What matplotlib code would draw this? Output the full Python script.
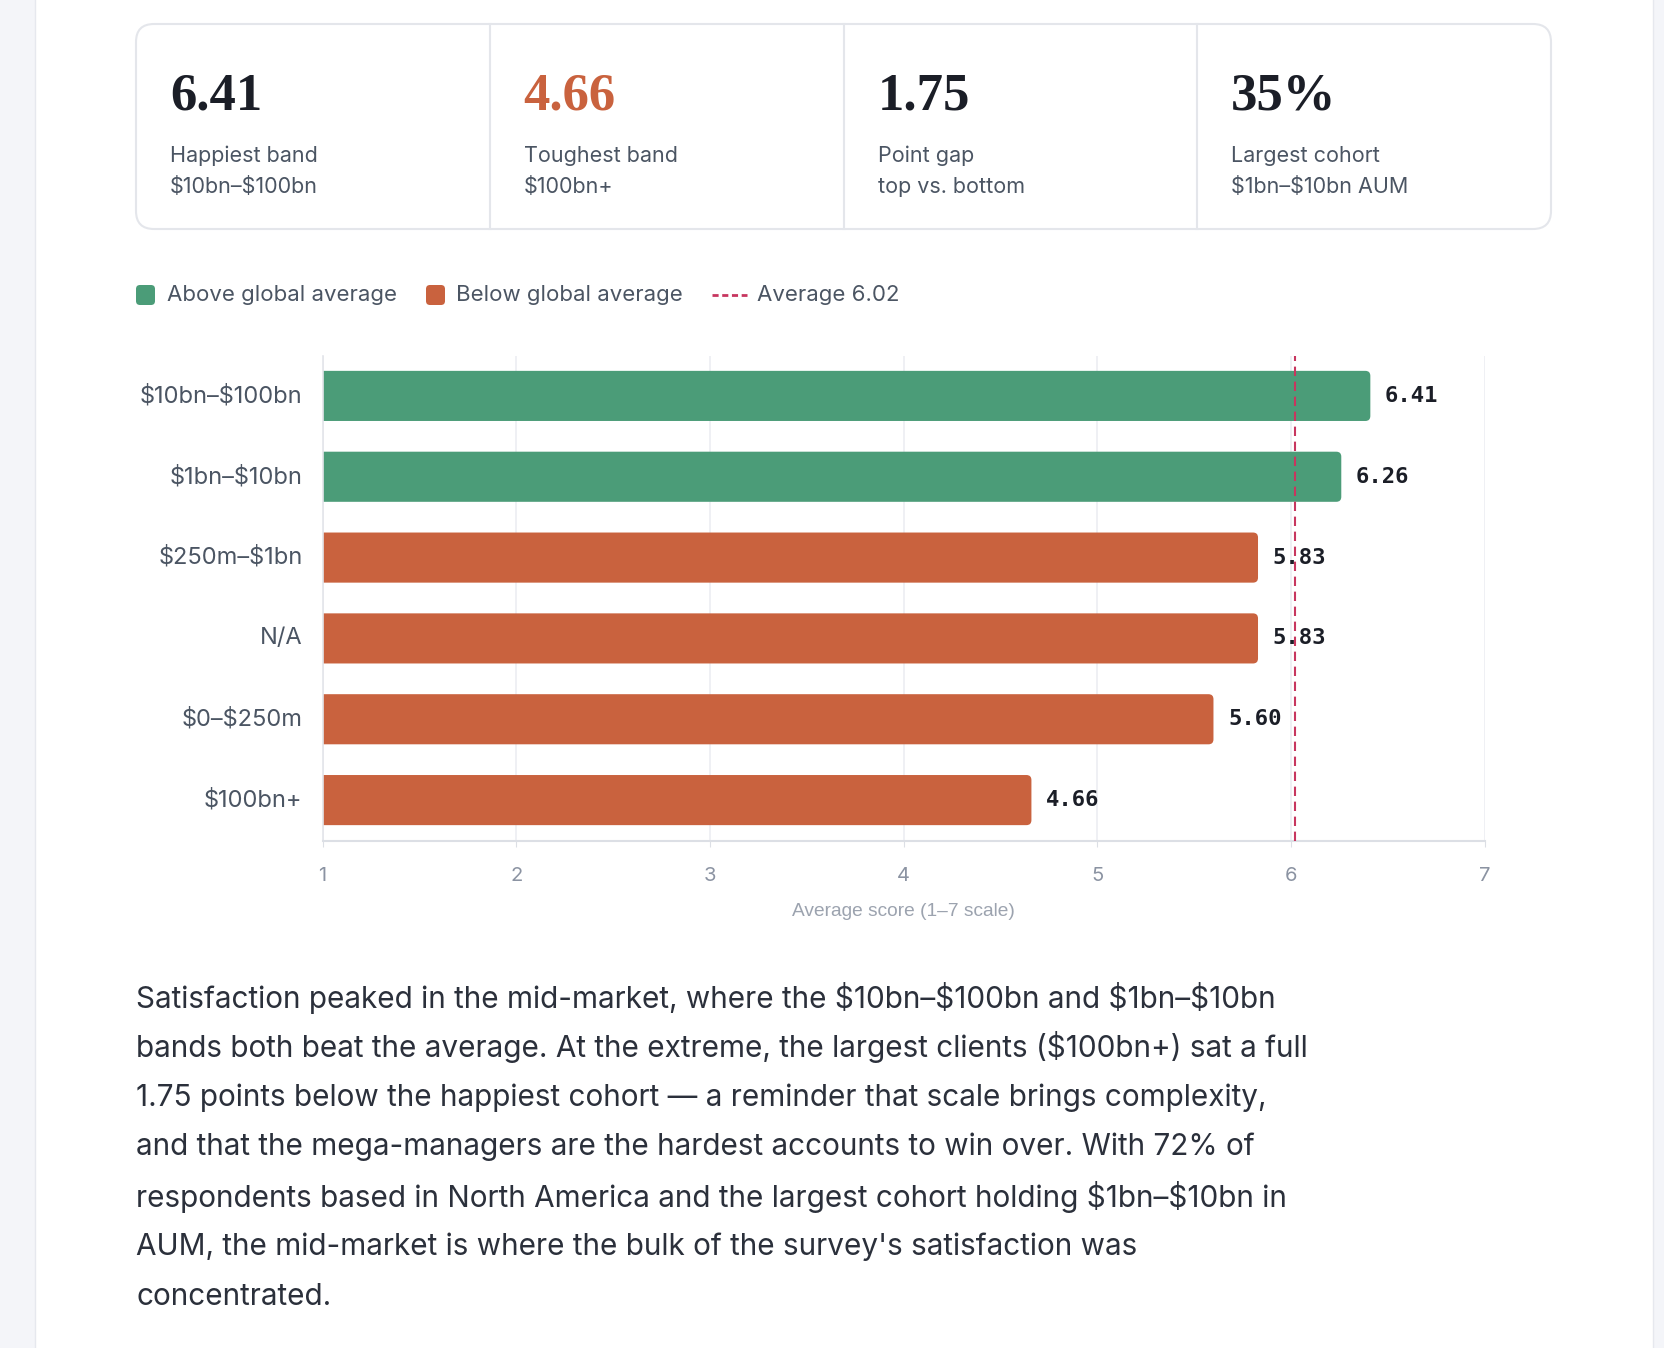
import matplotlib
matplotlib.use("Agg")
from matplotlib import pyplot as plt
from matplotlib.patches import FancyBboxPatch, Rectangle
from matplotlib.lines import Line2D

# ---- data ----
bands = ["$10bn–$100bn", "$1bn–$10bn", "$250m–$1bn", "N/A", "$0–$250m", "$100bn+"]
scores = [6.41, 6.26, 5.83, 5.83, 5.60, 4.66]
global_avg = 6.02
x_ticks = [1, 2, 3, 4, 5, 6, 7]
largest_cohort_share = "35%"
largest_cohort_band = "$1bn–$10bn AUM"

kpi_labels = ["Happiest band", "Toughest band", "Point gap", "Largest cohort"]

paragraph = [
    "Satisfaction peaked in the mid-market, where the $10bn–$100bn and $1bn–$10bn",
    "bands both beat the average. At the extreme, the largest clients ($100bn+) sat a full",
    "1.75 points below the happiest cohort — a reminder that scale brings complexity,",
    "and that the mega-managers are the hardest accounts to win over. With 72% of",
    "respondents based in North America and the largest cohort holding $1bn–$10bn in",
    "AUM, the mid-market is where the bulk of the survey's satisfaction was",
    "concentrated.",
]

# ---- style ----
GREEN = "#4b9c78"
ORANGE = "#c9623e"
AVG = "#c7365f"
DARK = "#1b1e27"
MUTED = "#4b5563"
LIGHT = "#8b93a2"
BORDER = "#e4e6eb"
STRIP = "#f4f5f9"

plt.rcParams["font.family"] = ["Inter", "DejaVu Sans"]


def esc(s):
    return s.replace("$", r"\$")


W, H = 1664, 1348
fig = plt.figure(figsize=(W / 100, H / 100), dpi=100)
fig.patch.set_facecolor("white")

# page canvas in pixel coords (y down)
cv = fig.add_axes([0, 0, 1, 1])
cv.set_xlim(0, W)
cv.set_ylim(H, 0)
cv.axis("off")

cv.add_patch(Rectangle((0, 0), 35, H, fc=STRIP, ec="none"))
cv.plot([35, 35], [0, H], color="#e6e8ee", lw=1)
cv.add_patch(Rectangle((1653, 0), W - 1653, H, fc=STRIP, ec="none"))
cv.plot([1653, 1653], [0, H], color="#e6e8ee", lw=1)

# ---- KPI cards ----
card_x, card_y, card_w, card_h = 136, 24, 1415, 205
cv.add_patch(FancyBboxPatch((card_x, card_y), card_w, card_h,
                            boxstyle="round,pad=0,rounding_size=18",
                            fc="white", ec=BORDER, lw=1.5))
cell_w = card_w / 4
for k in range(1, 4):
    xd = card_x + k * cell_w
    cv.plot([xd, xd], [card_y, card_y + card_h], color=BORDER, lw=1.5)

hi = max(scores)
lo = min(scores)
kpi_values = [f"{hi:.2f}", f"{lo:.2f}", f"{hi - lo:.2f}", largest_cohort_share]
kpi_subs = [bands[scores.index(hi)], bands[scores.index(lo)], "top vs. bottom",
            largest_cohort_band]
kpi_colors = [DARK, ORANGE, DARK, DARK]
for k in range(4):
    x0 = card_x + k * cell_w + 34
    cv.text(x0, 97, kpi_values[k], fontsize=38, family="Liberation Serif",
            weight="bold", color=kpi_colors[k], va="center", parse_math=False)
    cv.text(x0, 156, kpi_labels[k], fontsize=15.5, color=MUTED, va="center",
            parse_math=False)
    cv.text(x0, 187, kpi_subs[k], fontsize=15.5, color=MUTED, va="center",
            parse_math=False)

# ---- legend ----
ly = 295
cv.add_patch(FancyBboxPatch((136, ly - 10), 19, 20,
                            boxstyle="round,pad=0,rounding_size=4", fc=GREEN, ec="none"))
cv.text(167, ly, "Above global average", fontsize=16, color=MUTED, va="center")
cv.add_patch(FancyBboxPatch((426, ly - 10), 19, 20,
                            boxstyle="round,pad=0,rounding_size=4", fc=ORANGE, ec="none"))
cv.text(456, ly, "Below global average", fontsize=16, color=MUTED, va="center")
cv.add_line(Line2D([712, 747], [ly, ly], color=AVG, lw=2, dashes=(2.2, 1.3)))
cv.text(757, ly, f"Average {global_avg:.2f}", fontsize=16, color=MUTED, va="center")

# ---- bar chart ----
ax_l, ax_r, ax_t, ax_b = 322.6, 1484.6, 355.5, 840.5
ax = fig.add_axes([ax_l / W, (H - ax_b) / H, (ax_r - ax_l) / W, (ax_b - ax_t) / H])
ax.set_facecolor("none")
xmin, xmax = x_ticks[0], x_ticks[-1]
ax.set_xlim(xmin, xmax)
ax.set_ylim(len(bands) - 0.5, -0.5)

ypos = list(range(len(bands)))
colors = [GREEN if v > global_avg else ORANGE for v in scores]
bars = ax.barh(ypos, [v - xmin for v in scores], left=xmin, height=0.62,
               color=colors, zorder=2)

# round the bar ends
px_x = (ax_r - ax_l) / (xmax - xmin)
px_y = (ax_b - ax_t) / len(bands)
r_px = 5
rx = r_px / px_x
for p in bars.patches:
    x0, y0, w, h = p.get_x(), p.get_y(), p.get_width(), p.get_height()
    fc = p.get_facecolor()
    p.remove()
    ax.add_patch(FancyBboxPatch((x0 - rx, y0), w + rx, h,
                                boxstyle=f"round,pad=0,rounding_size={rx}",
                                mutation_aspect=px_x / px_y,
                                fc=fc, ec="none", zorder=2))

for i, v in enumerate(scores):
    ax.annotate(f"{v:.2f}", xy=(v, i), xytext=(10.5, 0), textcoords="offset points",
                va="center", ha="left", family="DejaVu Sans Mono", weight="bold",
                fontsize=16, color=DARK, zorder=3)

ax.axvline(global_avg, color=AVG, lw=1.5, ls=(0, (4.5, 2.7)), zorder=4)

ax.set_xticks(x_ticks)
ax.set_yticks(ypos, labels=[esc(b) for b in bands])
for t in ax.get_yticklabels():
    t.set_va("center")
ax.grid(axis="x", color="#eceef2", lw=1.2, zorder=0)
ax.set_axisbelow(True)
for s in ["top", "right"]:
    ax.spines[s].set_visible(False)
ax.spines["left"].set_color("#e3e5ea")
ax.spines["bottom"].set_color("#dcdfe5")
ax.spines["left"].set_linewidth(1.2)
ax.spines["bottom"].set_linewidth(1.5)
ax.tick_params(axis="x", length=4, color="#dcdfe5", pad=15, labelsize=14.5,
               labelcolor=LIGHT)
ax.tick_params(axis="y", length=0, pad=14.5, labelsize=17, labelcolor=MUTED)
ax.set_xlabel("Average score (1–7 scale)", fontsize=13.8, color="#9ca3af",
              family="Liberation Sans", labelpad=13)

# ---- commentary ----
for j, line in enumerate(paragraph):
    cv.text(136, 997.5 + j * 49.9, line, fontsize=21.4, color="#2b303b",
            va="center", parse_math=False)

fig.savefig("out.png", dpi=100, facecolor="white")
